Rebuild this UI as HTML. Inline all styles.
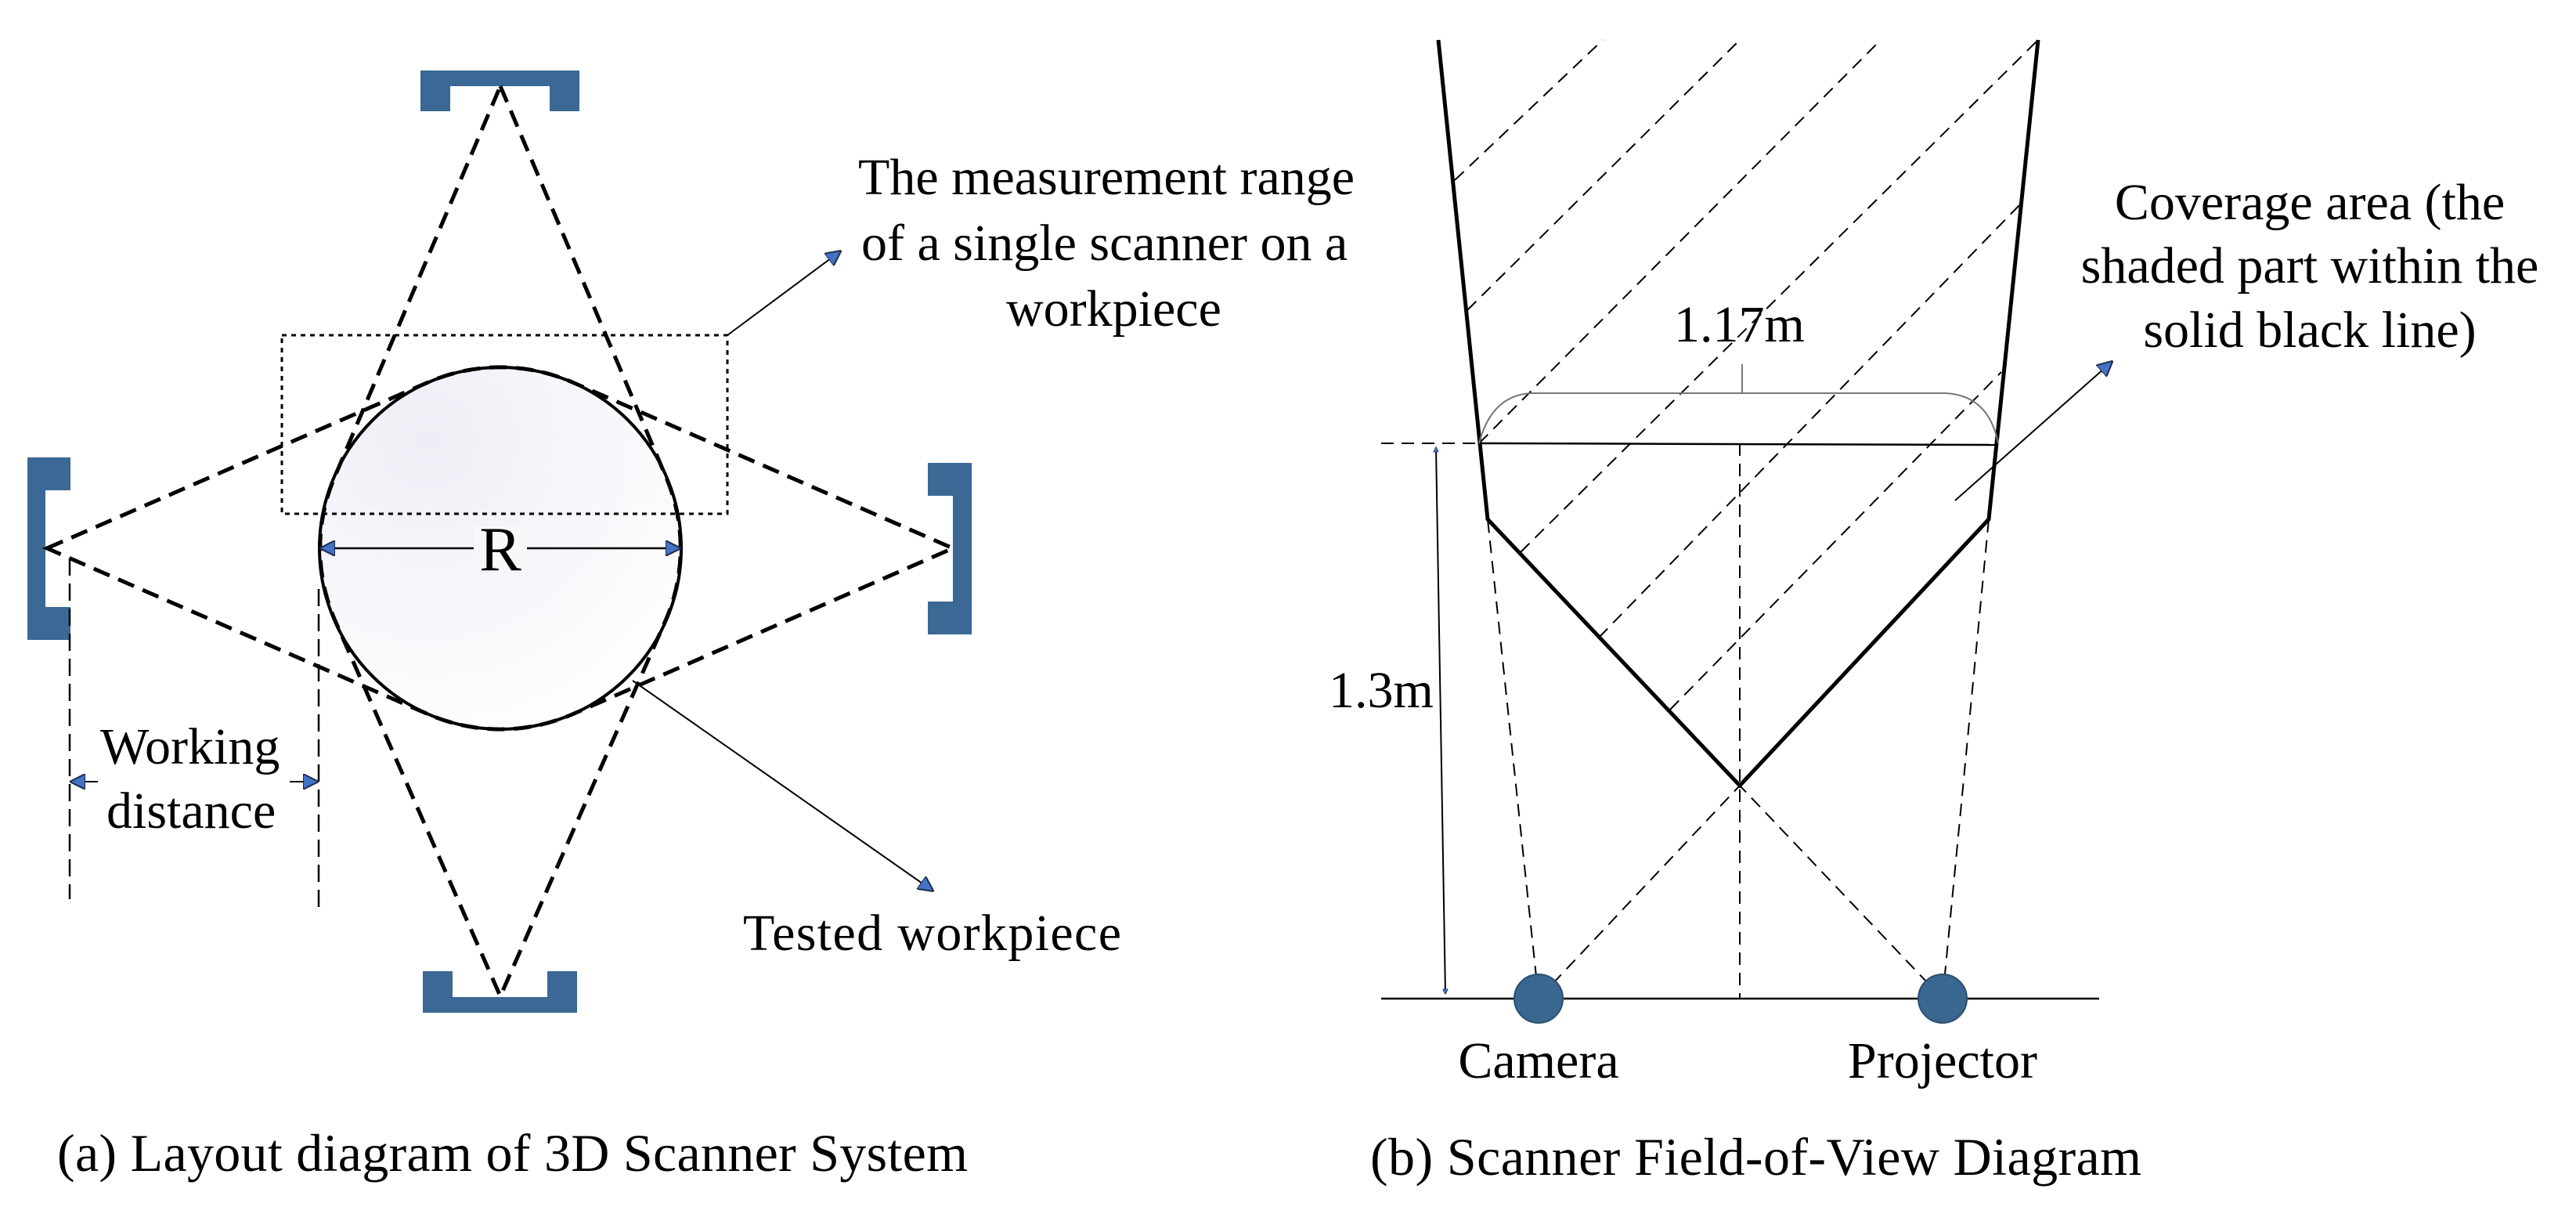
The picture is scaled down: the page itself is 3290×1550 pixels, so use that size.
<!DOCTYPE html>
<html><head><meta charset="utf-8"><style>
html,body{margin:0;padding:0;background:#fff;font-family:"Liberation Serif",serif;}
svg{display:block;}
svg text{font-family:"Liberation Serif",serif !important;}
</style></head><body>
<svg width="3290" height="1550" viewBox="0 0 3290 1550" xmlns="http://www.w3.org/2000/svg" style="font-family:'Liberation Serif',serif">
<style>text{font-family:"Liberation Serif",serif;}</style>
<defs>
<radialGradient id="cg" cx="0.3" cy="0.2" r="0.9">
<stop offset="0" stop-color="#eeeef6"/><stop offset="0.7" stop-color="#fafafd"/><stop offset="1" stop-color="#ffffff"/>
</radialGradient>
<marker id="ar" viewBox="0 0 10 10" refX="9" refY="5" markerWidth="7" markerHeight="7" orient="auto-start-reverse" markerUnits="userSpaceOnUse">
<path d="M0,0 L10,5 L0,10 Z" fill="#4472c4" stroke="#1f2d4d" stroke-width="1"/>
</marker>
<marker id="ar2" viewBox="0 0 10 10" refX="9" refY="5" markerWidth="20" markerHeight="20" orient="auto-start-reverse" markerUnits="userSpaceOnUse">
<path d="M0,0 L10,5 L0,10 Z" fill="#4472c4" stroke="#1f2d4d" stroke-width="1"/>
</marker>
</defs>

<g fill="#3b6894">
<rect x="537" y="90" width="203" height="20"/><rect x="537" y="90" width="38" height="52"/><rect x="702" y="90" width="38" height="52"/>
<rect x="540" y="1273" width="197" height="20"/><rect x="540" y="1240" width="38" height="53"/><rect x="699" y="1240" width="38" height="53"/>
<rect x="35" y="584" width="23" height="233"/><rect x="35" y="584" width="55" height="42"/><rect x="35" y="775" width="55" height="42"/>
<rect x="1217" y="591" width="24" height="219"/><rect x="1185" y="591" width="56" height="42"/><rect x="1185" y="768" width="56" height="42"/>
</g>
<circle cx="639" cy="700" r="231" fill="url(#cg)" stroke="#000" stroke-width="4"/>
<g fill="none" stroke="#000" stroke-width="5" stroke-dasharray="22,12">
<path d="M60,700 L547,488 A231 231 0 0 1 731,488 L1217,700 L731,912 A231 231 0 0 1 547,912 Z"/>
<path d="M639,110 L851,610 A231 231 0 0 1 851,790 L639,1272 L427,790 A231 231 0 0 1 427,610 Z"/>
</g>
<rect x="360" y="428" width="569" height="228" fill="none" stroke="#000" stroke-width="3" stroke-dasharray="6,6"/>
<line x1="929" y1="428" x2="1073" y2="321" stroke="#000" stroke-width="2" marker-end="url(#ar2)"/>
<line x1="410" y1="700" x2="868" y2="700" stroke="#000" stroke-width="2.5" marker-start="url(#ar2)" marker-end="url(#ar2)"/>
<rect x="605" y="672" width="68" height="56" fill="#f8f8fb"/>
<text x="639" y="728" font-size="80" text-anchor="middle">R</text>
<g stroke="#000" stroke-width="2.5" stroke-dasharray="22,10">
<line x1="89" y1="713" x2="89" y2="1148"/>
<line x1="407" y1="752" x2="407" y2="1160"/>
</g>
<line x1="91" y1="998" x2="125" y2="998" stroke="#000" stroke-width="2" marker-start="url(#ar2)"/>
<line x1="370" y1="998" x2="405" y2="998" stroke="#000" stroke-width="2" marker-end="url(#ar2)"/>
<text x="128" y="975" font-size="66">Working</text>
<text x="136" y="1057" font-size="66">distance</text>
<line x1="808" y1="869" x2="1191" y2="1137" stroke="#000" stroke-width="2" marker-end="url(#ar2)"/>
<text x="949" y="1213" font-size="66" textLength="483">Tested workpiece</text>
<text x="1096" y="248" font-size="66">The measurement range</text>
<text x="1100" y="332" font-size="66">of a single scanner on a</text>
<text x="1285" y="416" font-size="66">workpiece</text>
<text x="73" y="1495" font-size="68" textLength="1163">(a) Layout diagram of 3D Scanner System</text>

<g stroke="#000" stroke-width="2" stroke-dasharray="16,10" fill="none">
<line x1="1858" y1="230" x2="2047" y2="51"/>
<line x1="1874" y1="396" x2="2222" y2="51"/>
<line x1="1889" y1="566" x2="2402" y2="51"/>
<line x1="1942" y1="705" x2="2603" y2="51"/>
<line x1="2042" y1="814" x2="2582" y2="259"/>
<line x1="2133" y1="906" x2="2556" y2="475"/>
<line x1="1965" y1="1275" x2="1900" y2="663"/>
<line x1="2481" y1="1275" x2="2540" y2="663"/>
<line x1="1965" y1="1275" x2="2222" y2="1003"/>
<line x1="2481" y1="1275" x2="2222" y2="1003"/>
<line x1="2222" y1="566" x2="2222" y2="1275"/>
<line x1="1764" y1="566" x2="1889" y2="566"/>
</g>
<path d="M1837,51 L1900,663 L2222,1003 L2540,663 L2603,51" fill="none" stroke="#000" stroke-width="5" stroke-linejoin="miter"/>
<line x1="1889" y1="566" x2="2552" y2="568" stroke="#000" stroke-width="2.5"/>
<path d="M1889,566 Q1905,505 1955,502 L2485,502 Q2540,505 2552,566" fill="none" stroke="#777" stroke-width="2"/>
<line x1="2225" y1="502" x2="2225" y2="465" stroke="#777" stroke-width="2"/>
<text x="2138" y="436" font-size="66">1.17m</text>
<line x1="1834" y1="571" x2="1846" y2="1269" stroke="#000" stroke-width="2" marker-start="url(#ar)" marker-end="url(#ar)"/>
<text x="1697" y="903" font-size="66">1.3m</text>
<line x1="1764" y1="1275" x2="2681" y2="1275" stroke="#000" stroke-width="2.5"/>
<circle cx="1965" cy="1275" r="31" fill="#3a6790" stroke="#2c4f70" stroke-width="2"/>
<circle cx="2481" cy="1275" r="31" fill="#3a6790" stroke="#2c4f70" stroke-width="2"/>
<text x="1965" y="1376" font-size="66" text-anchor="middle">Camera</text>
<text x="2481" y="1376" font-size="66" text-anchor="middle">Projector</text>
<line x1="2497" y1="639" x2="2697" y2="462" stroke="#000" stroke-width="2" marker-end="url(#ar2)"/>
<text x="2950" y="280" font-size="66" text-anchor="middle">Coverage area (the</text>
<text x="2950" y="361" font-size="66" text-anchor="middle">shaded part within the</text>
<text x="2950" y="443" font-size="66" text-anchor="middle">solid black line)</text>
<text x="1750" y="1500" font-size="68" textLength="985">(b) Scanner Field-of-View Diagram</text>
</svg>
</body></html>
